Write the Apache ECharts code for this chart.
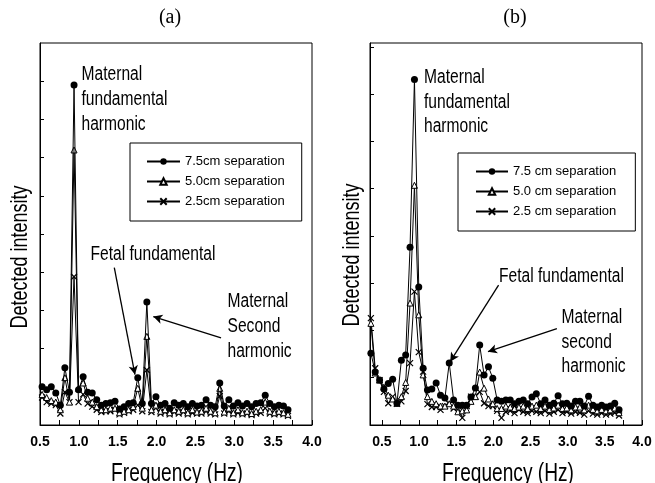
<!DOCTYPE html>
<html>
<head>
<meta charset="utf-8">
<script src="https://cdn.jsdelivr.net/npm/echarts@6/dist/echarts.min.js"></script>
<style>
  html, body { margin: 0; padding: 0; background: #fff; }
  #chart { width: 655px; height: 483px; }
</style>
</head>
<body>
<div id="chart"></div>
<script>
// frequency bins (Hz), step ~0.0586
const freqA = [0.527, 0.586, 0.645, 0.703, 0.762, 0.820, 0.879, 0.938, 0.996, 1.055,
  1.113, 1.172, 1.230, 1.289, 1.348, 1.406, 1.465, 1.523, 1.582, 1.641,
  1.699, 1.758, 1.816, 1.875, 1.934, 1.992, 2.051, 2.109, 2.168, 2.227,
  2.285, 2.344, 2.402, 2.461, 2.520, 2.578, 2.637, 2.695, 2.754, 2.813,
  2.871, 2.930, 2.988, 3.047, 3.105, 3.164, 3.223, 3.281, 3.340, 3.398,
  3.457, 3.516, 3.574, 3.633, 3.691];
const freqB = [0.352, 0.410, 0.469, 0.527, 0.586, 0.645, 0.703, 0.762, 0.820, 0.879,
  0.938, 0.996, 1.055, 1.113, 1.172, 1.230, 1.289, 1.348, 1.406, 1.465,
  1.523, 1.582, 1.641, 1.699, 1.758, 1.816, 1.875, 1.934, 1.992, 2.051,
  2.109, 2.168, 2.227, 2.285, 2.344, 2.402, 2.461, 2.520, 2.578, 2.637,
  2.695, 2.754, 2.813, 2.871, 2.930, 2.988, 3.047, 3.105, 3.164, 3.223,
  3.281, 3.340, 3.398, 3.457, 3.516, 3.574, 3.633, 3.691];

// panel (a)
const a75 = [0.50, 0.46, 0.50, 0.42, 0.26, 0.75, 0.43, 4.45, 0.46, 0.63,
  0.43, 0.42, 0.33, 0.26, 0.28, 0.29, 0.31, 0.21, 0.24, 0.28,
  0.29, 0.62, 0.28, 1.61, 0.28, 0.37, 0.26, 0.28, 0.22, 0.29,
  0.26, 0.28, 0.24, 0.28, 0.25, 0.26, 0.33, 0.26, 0.24, 0.55,
  0.25, 0.33, 0.25, 0.29, 0.25, 0.28, 0.24, 0.28, 0.29, 0.39,
  0.28, 0.24, 0.26, 0.25, 0.20];
const a50 = [0.40, 0.36, 0.32, 0.30, 0.20, 0.62, 0.30, 3.60, 0.48, 0.55,
  0.35, 0.30, 0.24, 0.20, 0.20, 0.22, 0.22, 0.16, 0.18, 0.20,
  0.24, 0.48, 0.22, 1.16, 0.20, 0.26, 0.18, 0.20, 0.16, 0.20,
  0.18, 0.20, 0.16, 0.20, 0.17, 0.18, 0.22, 0.18, 0.16, 0.48,
  0.17, 0.22, 0.16, 0.20, 0.16, 0.18, 0.15, 0.18, 0.20, 0.30,
  0.18, 0.16, 0.18, 0.16, 0.14];
const a25 = [0.36, 0.30, 0.28, 0.26, 0.15, 0.43, 0.30, 1.94, 0.30, 0.40,
  0.28, 0.24, 0.20, 0.17, 0.18, 0.18, 0.20, 0.14, 0.16, 0.18,
  0.20, 0.26, 0.18, 0.72, 0.17, 0.22, 0.15, 0.17, 0.14, 0.17,
  0.15, 0.17, 0.14, 0.16, 0.15, 0.15, 0.18, 0.15, 0.14, 0.38,
  0.15, 0.18, 0.14, 0.16, 0.14, 0.15, 0.13, 0.15, 0.16, 0.22,
  0.15, 0.14, 0.15, 0.14, 0.12];

// panel (b)
const b75 = [1.52, 1.12, 0.95, 0.76, 0.88, 0.97, 0.46, 1.37, 1.48, 3.76,
  7.31, 2.92, 1.20, 0.74, 0.76, 0.89, 0.63, 0.57, 1.31, 0.53,
  0.42, 0.42, 0.42, 0.59, 0.78, 1.69, 1.06, 1.23, 0.99, 0.53,
  0.50, 0.53, 0.53, 0.45, 0.50, 0.53, 0.45, 0.59, 0.66, 0.45,
  0.53, 0.42, 0.46, 0.62, 0.45, 0.46, 0.40, 0.50, 0.50, 0.40,
  0.61, 0.42, 0.38, 0.42, 0.38, 0.40, 0.46, 0.32];
const b50 = [2.15, 1.10, 0.95, 0.80, 0.63, 0.55, 0.46, 0.60, 0.90, 2.58,
  5.07, 2.33, 1.06, 0.60, 0.50, 0.45, 0.40, 0.40, 0.45, 0.40,
  0.28, 0.30, 0.32, 0.50, 0.60, 1.12, 0.78, 0.55, 0.45, 0.35,
  0.35, 0.40, 0.38, 0.35, 0.38, 0.40, 0.35, 0.40, 0.42, 0.35,
  0.40, 0.33, 0.36, 0.42, 0.35, 0.36, 0.32, 0.38, 0.38, 0.32,
  0.42, 0.33, 0.30, 0.33, 0.30, 0.32, 0.36, 0.26];
const b25 = [2.26, 1.20, 0.95, 0.70, 0.46, 0.60, 0.45, 0.50, 0.72, 1.31,
  2.82, 1.54, 1.13, 0.44, 0.38, 0.38, 0.32, 0.40, 0.45, 0.35,
  0.40, 0.15, 0.40, 0.60, 0.60, 0.70, 0.46, 0.40, 0.40, 0.30,
  0.15, 0.28, 0.30, 0.25, 0.32, 0.28, 0.25, 0.30, 0.28, 0.25,
  0.30, 0.24, 0.28, 0.32, 0.25, 0.28, 0.24, 0.28, 0.26, 0.22,
  0.30, 0.24, 0.22, 0.25, 0.22, 0.24, 0.26, 0.20];

const xTicks = [0.5, 0.75, 1.0, 1.25, 1.5, 1.75, 2.0, 2.25, 2.5, 2.75, 3.0, 3.25, 3.5, 3.75, 4.0];
const xLabels = [0.5, 1.0, 1.5, 2.0, 2.5, 3.0, 3.5, 4.0];
const yTicksA = [0.5, 1, 1.5, 2, 2.5, 3, 3.5, 4, 4.5];
const yTicksB = [1, 2, 3, 4, 5, 6, 7, 8];

const namesA = ['7.5cm separation', '5.0cm separation', '2.5cm separation'];
const namesB = ['7.5 cm separation', '5.0 cm separation', '2.5 cm separation'];

const FONT = '"Liberation Sans", Arial, sans-serif';
const crossPath = 'path://M0,0L10,10M10,0L0,10';

function pairs(xs, ys) {
  return xs.map((x, i) => [x, ys[i]]);
}

function xAxis(idx, min) {
  return {
    type: 'value', gridIndex: idx, min: min, max: 4.0,
    axisLine: { show: true, lineStyle: { color: '#000', width: 1 } },
    axisTick: { show: true, inside: true, length: 5, customValues: xTicks, lineStyle: { color: '#000' } },
    axisLabel: { customValues: xLabels, color: '#000', fontFamily: FONT, fontSize: 14, fontWeight: 'bold', margin: 10,
      formatter: v => v.toFixed(1) },
    splitLine: { show: false }
  };
}

function yAxis(idx, max, ticks) {
  return {
    type: 'value', gridIndex: idx, min: 0, max: max,
    axisLine: { show: true, lineStyle: { color: '#000', width: 1 } },
    axisTick: { show: true, inside: true, length: 4, customValues: ticks, lineStyle: { color: '#000' } },
    axisLabel: { show: false },
    splitLine: { show: false }
  };
}

function makeSeries(names, xs, v75, v50, v25, idx, arrows) {
  const line = { color: '#000', width: 1 };
  return [
    {
      name: names[0], type: 'line', xAxisIndex: idx, yAxisIndex: idx, z: 4,
      data: pairs(xs, v75), symbol: 'circle', symbolSize: 7, showAllSymbol: true,
      lineStyle: line, itemStyle: { color: '#000' }
    },
    {
      name: names[1], type: 'line', xAxisIndex: idx, yAxisIndex: idx, z: 3,
      data: pairs(xs, v50), symbol: 'triangle', symbolSize: 6, showAllSymbol: true,
      lineStyle: line, itemStyle: { color: '#fff', borderColor: '#000', borderWidth: 1 }
    },
    {
      name: names[2], type: 'line', xAxisIndex: idx, yAxisIndex: idx, z: 2,
      data: pairs(xs, v25), symbol: crossPath, symbolSize: 6, showAllSymbol: true,
      lineStyle: line, itemStyle: { color: '#000', borderColor: '#000', borderWidth: 1.2 },
      markLine: {
        silent: true, animation: false, symbolSize: [7, 9],
        lineStyle: { color: '#000', width: 1.3, type: 'solid' },
        label: { show: false },
        data: arrows.map(a => [
          { coord: a[0], symbol: 'none' },
          { coord: a[1], symbol: 'arrow' }
        ])
      }
    }
  ];
}

// arrow start / end in data coordinates
const arrowsA = [[[1.456, 2.06], [1.722, 0.66]], [[2.83, 1.14], [1.958, 1.42]]];
const arrowsB = [[[2.07, 2.96], [1.419, 1.34]], [[2.855, 2.04], [1.927, 1.55]]];

// condensed-looking text: normal font squeezed horizontally
function label(x, y, s, size, opts) {
  opts = opts || {};
  return {
    type: 'text', x: x, y: y, rotation: opts.rotation || 0,
    scaleX: opts.scaleX || 0.8, scaleY: 1, silent: true,
    style: {
      text: s, fontSize: size, fontFamily: opts.family || FONT, fill: '#000',
      align: opts.align || 'left', verticalAlign: 'middle'
    }
  };
}

function block(x, ys, lines) {
  return lines.map((s, i) => label(x, ys[i], s, 19.5));
}

const chart = echarts.init(document.getElementById('chart'));
chart.setOption({
  animation: false,
  backgroundColor: '#fff',
  grid: [
    { left: 40, top: 43, width: 272, height: 382, show: true, borderColor: '#000', borderWidth: 1 },
    { left: 370, top: 43, width: 272, height: 382, show: true, borderColor: '#000', borderWidth: 1 }
  ],
  xAxis: [xAxis(0, 0.5), xAxis(1, 0.34)],
  yAxis: [yAxis(0, 5, yTicksA), yAxis(1, 8.08, yTicksB)],
  legend: [
    {
      data: namesA, orient: 'vertical', left: 130, top: 143,
      itemWidth: 33, itemHeight: 8, itemGap: 7, padding: [12, 17, 13, 16],
      borderColor: '#000', borderWidth: 1, borderRadius: 0,
      textStyle: { fontFamily: FONT, fontSize: 13, color: '#000' }
    },
    {
      data: namesB, orient: 'vertical', left: 458, top: 153,
      itemWidth: 32, itemHeight: 8, itemGap: 7, padding: [12, 19, 13, 17],
      borderColor: '#000', borderWidth: 1, borderRadius: 0,
      textStyle: { fontFamily: FONT, fontSize: 13, color: '#000' }
    }
  ],
  graphic: [
    label(170, 18, '(a)', 20, { align: 'center', scaleX: 1, family: '"Liberation Serif", serif' }),
    label(515, 18, '(b)', 20, { align: 'center', scaleX: 1, family: '"Liberation Serif", serif' }),
    label(20, 257, 'Detected intensity', 24, { align: 'center', rotation: Math.PI / 2, scaleX: 0.75 }),
    label(352, 255, 'Detected intensity', 24, { align: 'center', rotation: Math.PI / 2, scaleX: 0.75 }),
    label(177, 474, 'Frequency (Hz)', 25.5, { align: 'center', scaleX: 0.75 }),
    label(508, 474, 'Frequency (Hz)', 25.5, { align: 'center', scaleX: 0.75 }),
    ...block(81.5, [75, 100, 125], ['Maternal', 'fundamental', 'harmonic']),
    label(90.5, 255, 'Fetal fundamental', 19.5),
    ...block(227.5, [302, 327, 352], ['Maternal', 'Second', 'harmonic']),
    ...block(424, [78, 103, 127], ['Maternal', 'fundamental', 'harmonic']),
    label(499, 277, 'Fetal fundamental', 19.5),
    ...block(561.5, [318, 343, 367], ['Maternal', 'second', 'harmonic'])
  ],
  series: [
    ...makeSeries(namesA, freqA, a75, a50, a25, 0, arrowsA),
    ...makeSeries(namesB, freqB, b75, b50, b25, 1, arrowsB)
  ]
});
</script>
</body>
</html>
